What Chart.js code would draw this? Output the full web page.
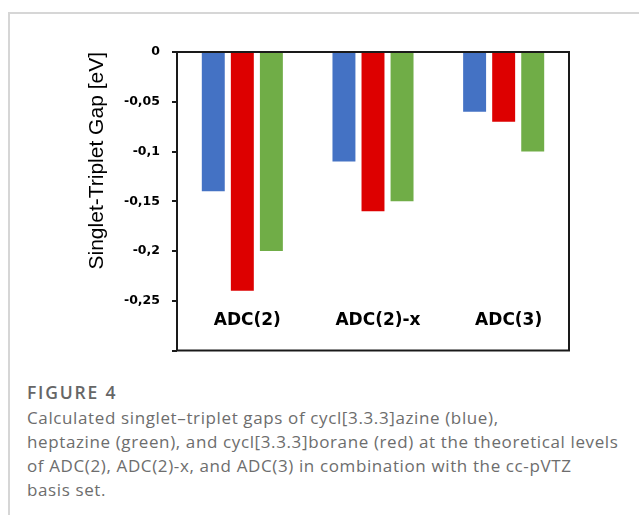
<!DOCTYPE html>
<html>
<head>
<meta charset="utf-8">
<script src="https://cdn.jsdelivr.net/npm/chart.js@4.4.0/dist/chart.umd.min.js"></script>
<style>
  html, body { margin: 0; padding: 0; background: #fff; }
  #page { position: relative; width: 639px; height: 515px; overflow: hidden; }
  #card {
    position: absolute; left: 8px; top: 12px; right: -10px; bottom: -10px;
    border-left: 2px solid #d6d6d6; border-top: 2px solid #d6d6d6;
  }
  #chart { position: absolute; left: 0; top: 0; }
  #caption {
    position: absolute; left: 27px; top: 378px;
    font-family: "Open Sans", sans-serif; color: #6d6d6d;
    font-size: 17px; line-height: 24px; letter-spacing: 0.62px; white-space: nowrap;
  }
  #caption .fig { font-weight: 600; font-size: 17.5px; line-height: 28px; letter-spacing: 1.8px; color: #666; }
</style>
</head>
<body>
<div id="page">
  <div id="card"></div>
  <canvas id="chart" width="639" height="370"></canvas>
  <div id="caption">
    <div class="fig">FIGURE 4</div>
    Calculated singlet–triplet gaps of cycl[3.3.3]azine (blue),<br>
    heptazine (green), and cycl[3.3.3]borane (red) at the theoretical levels<br>
    of ADC(2), ADC(2)-x, and ADC(3) in combination with the cc-pVTZ<br>
    basis set.
  </div>
</div>
<script>
// ── Données ──────────────────────────────────────────────────────────
const METHODS   = ["ADC(2)", "ADC(2)-x", "ADC(3)"];
const AZINE     = [-0.14, -0.11, -0.06];   // bleu
const BORANE    = [-0.24, -0.16, -0.07];   // rouge
const HEPTAZINE = [-0.20, -0.15, -0.10];   // vert
const Y_MIN = -0.3, Y_MAX = 0, Y_STEP = 0.05;
const LABEL_Y = -0.27;   // hauteur des noms de méthode dans le graphe

// étiquettes de méthode dessinées dans la zone du graphe
const methodLabels = {
  id: "methodLabels",
  afterDatasetsDraw(chart) {
    const { ctx, scales: { x, y } } = chart;
    ctx.save();
    ctx.font = "bold 17px 'DejaVu Sans'";
    ctx.fillStyle = "#000";
    ctx.textAlign = "center";
    ctx.textBaseline = "middle";
    METHODS.forEach((m, i) => {
      ctx.fillText(m, x.getPixelForValue(i) + 5, y.getPixelForValue(LABEL_Y));
    });
    ctx.restore();
  },
};

// cadre noir autour de la zone de tracé
const frame = {
  id: "frame",
  afterDraw(chart) {
    const { ctx, chartArea: a } = chart;
    ctx.save();
    ctx.strokeStyle = "#1a1a1a";
    ctx.lineWidth = 2;
    ctx.beginPath();
    ctx.moveTo(a.left, a.top);
    ctx.lineTo(a.right, a.top);
    ctx.lineTo(a.right, a.bottom);
    ctx.lineTo(a.left, a.bottom);
    ctx.closePath();
    ctx.stroke();
    ctx.restore();
  },
};

function fmt(v) {
  const r = Math.round(v * 100) / 100;
  return String(r).replace(".", ",");
}

new Chart(document.getElementById("chart"), {
  type: "bar",
  data: {
    labels: METHODS,
    datasets: [
      { label: "cycl[3.3.3]azine",  data: AZINE,     backgroundColor: "#4472C4" },
      { label: "cycl[3.3.3]borane", data: BORANE,    backgroundColor: "#DD0000" },
      { label: "heptazine",         data: HEPTAZINE, backgroundColor: "#70AD47" },
    ],
  },
  options: {
    responsive: false,
    animation: false,
    devicePixelRatio: 1,
    layout: { padding: { left: 81, top: 52, right: 70, bottom: 19 } },
    datasets: { bar: { barPercentage: 0.79, categoryPercentage: 0.667 } },
    plugins: { legend: { display: false }, tooltip: { enabled: false } },
    scales: {
      x: { display: false },
      y: {
        min: Y_MIN,
        max: Y_MAX,
        afterFit: (s) => { s.width = 96; },
        border: { display: false },
        grid: { drawOnChartArea: false, drawTicks: true, tickLength: 5, color: "#1a1a1a", lineWidth: 2 },
        ticks: {
          stepSize: Y_STEP,
          padding: 12,
          color: "#000",
          font: { family: "'DejaVu Sans'", size: 12.5, weight: "bold" },
          callback: (v) => (Math.abs(v - Y_MIN) < 1e-9 ? "" : fmt(v)),
        },
        title: {
          display: true,
          text: "Singlet-Triplet Gap [eV]",
          align: "end",
          color: "#000",
          font: { family: "'Liberation Sans'", size: 21 },
        },
      },
    },
  },
  plugins: [methodLabels, frame],
});
</script>
</body>
</html>
